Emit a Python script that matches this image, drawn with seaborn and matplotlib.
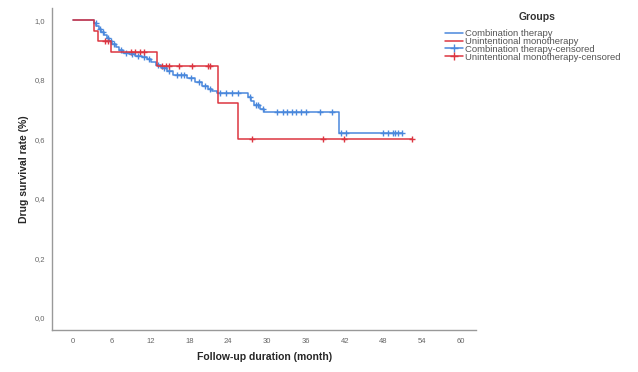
import numpy as np
import matplotlib
matplotlib.use('Agg')
import matplotlib.pyplot as plt
import seaborn as sns
import pandas as pd
from matplotlib.lines import Line2D

# step times (month) and survival after each step
combo_t = [0, 3.2, 3.6, 4.0, 4.4, 4.8, 5.2, 5.6, 6.1, 6.6, 7.1, 7.7, 8.7, 9.6, 10.6, 11.4, 12.1,
           12.8, 13.6, 14.5, 15.4, 17.6, 18.9, 20.0, 20.8, 21.5, 22.3, 27.1, 27.5, 28.0, 28.9, 29.6, 41.2]
combo_s = [1.0, 0.99, 0.98, 0.97, 0.96, 0.95, 0.94, 0.93, 0.92, 0.91, 0.90, 0.89, 0.885, 0.88, 0.875, 0.87, 0.86,
           0.848, 0.838, 0.828, 0.815, 0.805, 0.792, 0.78, 0.77, 0.762, 0.755, 0.742, 0.728, 0.715, 0.703, 0.69, 0.622]
combo_cens = [3.5, 4.2, 4.6, 5.4, 5.9, 6.4, 7.4, 8.2, 9.1, 10.1, 11.0, 11.8, 13.2, 14.0, 14.9, 16.1, 16.7,
              17.2, 18.3, 19.5, 20.4, 21.2, 22.8, 23.7, 24.6, 25.5, 27.3, 28.3, 28.6, 29.3, 31.6, 32.4, 33.1,
              33.9, 34.4, 35.2, 36.1, 38.2, 40.1, 41.4, 42.2, 47.9, 48.7, 49.4, 49.8, 50.3, 50.9]

mono_t = [0, 3.3, 3.9, 5.8, 13.0, 22.4, 25.5]
mono_s = [1.0, 0.964, 0.929, 0.893, 0.845, 0.722, 0.60]
mono_cens = [5.0, 5.4, 8.9, 9.6, 10.3, 10.9, 13.7, 14.4, 14.9, 16.4, 18.4, 20.8, 21.2,
             27.6, 38.7, 41.9, 52.4]

blue = '#4a88dc'
red = '#dc3540'


def curve(t, s, cens):
    t = list(t) + [max(cens)]
    s = list(s) + [s[-1]]
    line = pd.DataFrame({'x': t, 'y': s})
    idx = np.searchsorted(np.array(t), np.array(cens), side='right') - 1
    pts = pd.DataFrame({'x': cens, 'y': np.array(s)[idx]})
    return line, pts


sns.set_style('white')
plt.rcParams['font.family'] = ['Liberation Sans', 'DejaVu Sans']

fig = plt.figure(figsize=(6.38, 3.72), dpi=100)
ax = fig.add_axes([0.082, 0.113, 0.664, 0.865])

for t, s, cens, col in [(combo_t, combo_s, combo_cens, blue), (mono_t, mono_s, mono_cens, red)]:
    line, pts = curve(t, s, cens)
    sns.lineplot(data=line, x='x', y='y', ax=ax, color=col, lw=1.1,
                 drawstyle='steps-post', estimator=None, sort=False)
    sns.scatterplot(data=pts, x='x', y='y', ax=ax, color=col, marker='+', s=18, linewidth=1.0)

ax.set_xlim(-3.2, 62.3)
ax.set_ylim(-0.04, 1.04)
ax.set_xticks(range(0, 61, 6))
ax.set_yticks([0, 0.2, 0.4, 0.6, 0.8, 1.0])
ax.set_yticklabels(['0,0', '0,2', '0,4', '0,6', '0,8', '1,0'])
ax.tick_params(length=0, labelsize=5.5, labelcolor='#666666', pad=6)
ax.tick_params(axis='y', pad=5)
ax.set_xlabel('Follow-up duration (month)', fontsize=7.5, fontweight='bold', labelpad=5)
ax.set_ylabel('Drug survival rate (%)', fontsize=7.5, fontweight='bold', labelpad=4)
for side in ['top', 'right']:
    ax.spines[side].set_visible(False)
for side in ['left', 'bottom']:
    ax.spines[side].set_color('#999999')
    ax.spines[side].set_linewidth(1.0)

handles = [Line2D([], [], color=blue, lw=1.1),
           Line2D([], [], color=red, lw=1.1),
           Line2D([], [], color=blue, lw=1.1, marker='+', ms=6),
           Line2D([], [], color=red, lw=1.1, marker='+', ms=6)]
labels = ['Combination therapy', 'Unintentional monotherapy',
          'Combination therapy-censored', 'Unintentional monotherapy-censored']
fig.text(537 / 638, 1 - 17 / 372, 'Groups', fontsize=7.5, fontweight='bold',
         ha='center', va='center', color='#333333')
leg = fig.legend(handles, labels, loc='upper left', bbox_to_anchor=(0.697, 1 - 29 / 372),
                 frameon=False, fontsize=6.8, handlelength=1.9, handletextpad=0.25,
                 labelspacing=-0.12, borderpad=0.0, borderaxespad=0.0)
for txt in leg.get_texts():
    txt.set_color('#555555')

fig.savefig('out.png', dpi=100)
